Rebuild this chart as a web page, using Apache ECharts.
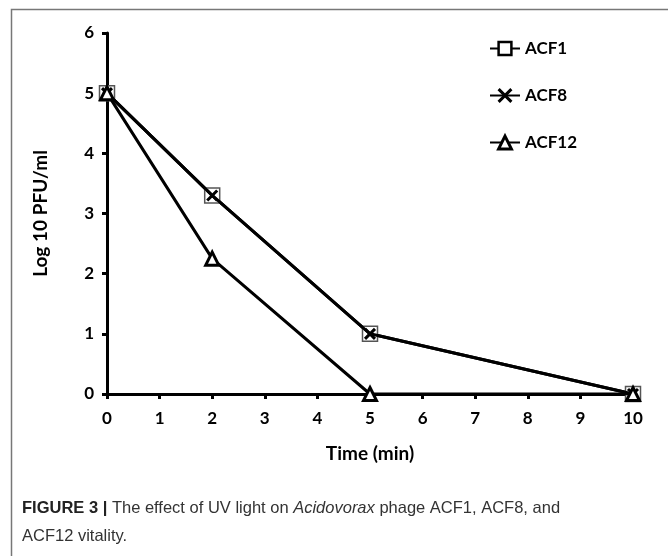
<!DOCTYPE html>
<html><head><meta charset="utf-8">
<script src="https://cdn.jsdelivr.net/npm/echarts@6/dist/echarts.min.js"></script>
<style>html,body{margin:0;padding:0;background:#fff}#c{width:668px;height:556px}</style>
</head><body><div id="c"></div>
<script>
const timeMin = [0, 2, 5, 10];
const acf1 = [5, 3.3, 1, 0];
const acf8 = [5, 3.3, 1, 0];
const acf12 = [5, 2.25, 0, 0];
const seriesNames = ['ACF1', 'ACF8', 'ACF12'];
const yTicks = [0, 1, 2, 3, 4, 5, 6];
const xTicks = [0, 1, 2, 3, 4, 5, 6, 7, 8, 9, 10];

const pts = v => timeMin.map((t, i) => [t, v[i]]);
const F = 'Lato, "Open Sans", sans-serif';
const CF = '"Liberation Sans Narrow", "Liberation Sans", sans-serif';
const chart = echarts.init(document.getElementById('c'), null, {renderer: 'canvas'});
chart.setOption({
  animation: false,
  backgroundColor: '#fff',
  grid: {left: 107, right: 35, top: 33, bottom: 162},
  xAxis: {
    type: 'value', min: xTicks[0], max: xTicks[xTicks.length - 1], interval: 1,
    name: 'Time (min)', nameLocation: 'middle', nameGap: 50,
    nameTextStyle: {fontFamily: F, fontWeight: 'bold', fontSize: 19, color: '#000'},
    axisLine: {lineStyle: {color: '#000', width: 3}},
    axisTick: {show: true, length: 5, lineStyle: {color: '#000', width: 3}},
    axisLabel: {fontFamily: F, fontWeight: 'bold', fontSize: 17, color: '#000', margin: 16},
    splitLine: {show: false}
  },
  yAxis: {
    type: 'value', min: yTicks[0], max: yTicks[yTicks.length - 1], interval: 1,
    name: 'Log 10 PFU/ml', nameLocation: 'middle', nameGap: 57,
    nameTextStyle: {fontFamily: F, fontWeight: 'bold', fontSize: 19, color: '#000'},
    axisLine: {show: true, lineStyle: {color: '#000', width: 3}},
    axisTick: {show: true, length: 5, lineStyle: {color: '#000', width: 3}},
    axisLabel: {fontFamily: F, fontWeight: 'bold', fontSize: 17, color: '#000', margin: 13},
    splitLine: {show: false}
  },
  legend: {
    orient: 'vertical', left: 484, top: 35, itemGap: 30, itemWidth: 30, itemHeight: 16,
    textStyle: {fontFamily: F, fontWeight: 'bold', fontSize: 17, color: '#000'},
    data: [
      {name: seriesNames[0], itemStyle: {borderColor: '#000', borderWidth: 2.5, color: '#fff'}},
      {name: seriesNames[1], itemStyle: {borderColor: '#000', borderWidth: 3}},
      {name: seriesNames[2], itemStyle: {borderColor: '#000', borderWidth: 3, color: '#fff'}}
    ]
  },
  series: [
    {name: seriesNames[0], type: 'line', data: pts(acf1), symbol: 'rect', symbolSize: 15,
     lineStyle: {color: '#000', width: 3},
     itemStyle: {color: '#fff', borderColor: '#555', borderWidth: 1.5}, z: 2},
    {name: seriesNames[1], type: 'line', data: pts(acf8),
     symbol: 'path://M0,0L10,10M10,0L0,10', symbolSize: 10,
     lineStyle: {color: '#000', width: 3},
     itemStyle: {color: '#000', borderColor: '#000', borderWidth: 3}, z: 3},
    {name: seriesNames[2], type: 'line', data: pts(acf12), symbol: 'triangle', symbolSize: 13,
     lineStyle: {color: '#000', width: 3},
     itemStyle: {color: '#fff', borderColor: '#000', borderWidth: 3}, z: 4}
  ],
  graphic: [
    {type: 'rect', shape: {x: 11.5, y: 9.5, width: 700, height: 600},
     style: {fill: null, stroke: '#777', lineWidth: 1.5}, silent: true},
    {type: 'text', left: 22, top: 494,
     style: {
       text: '{b|FIGURE 3 |} {n|The effect of UV light on }{i|Acidovorax}{n| phage ACF1, ACF8, and}\n{n|ACF12 vitality.}',
       fontFamily: CF, fontSize: 16.5, lineHeight: 28,
       fill: '#333',
       rich: {
         b: {fontWeight: 'bold', fontSize: 16.5, fontFamily: CF, fill: '#222', lineHeight: 28},
         n: {fontSize: 16.5, fontFamily: CF, fill: '#333', lineHeight: 28},
         i: {fontStyle: 'italic', fontSize: 16.5, fontFamily: CF, fill: '#333', lineHeight: 28}
       }
     }}
  ]
});
</script></body></html>
